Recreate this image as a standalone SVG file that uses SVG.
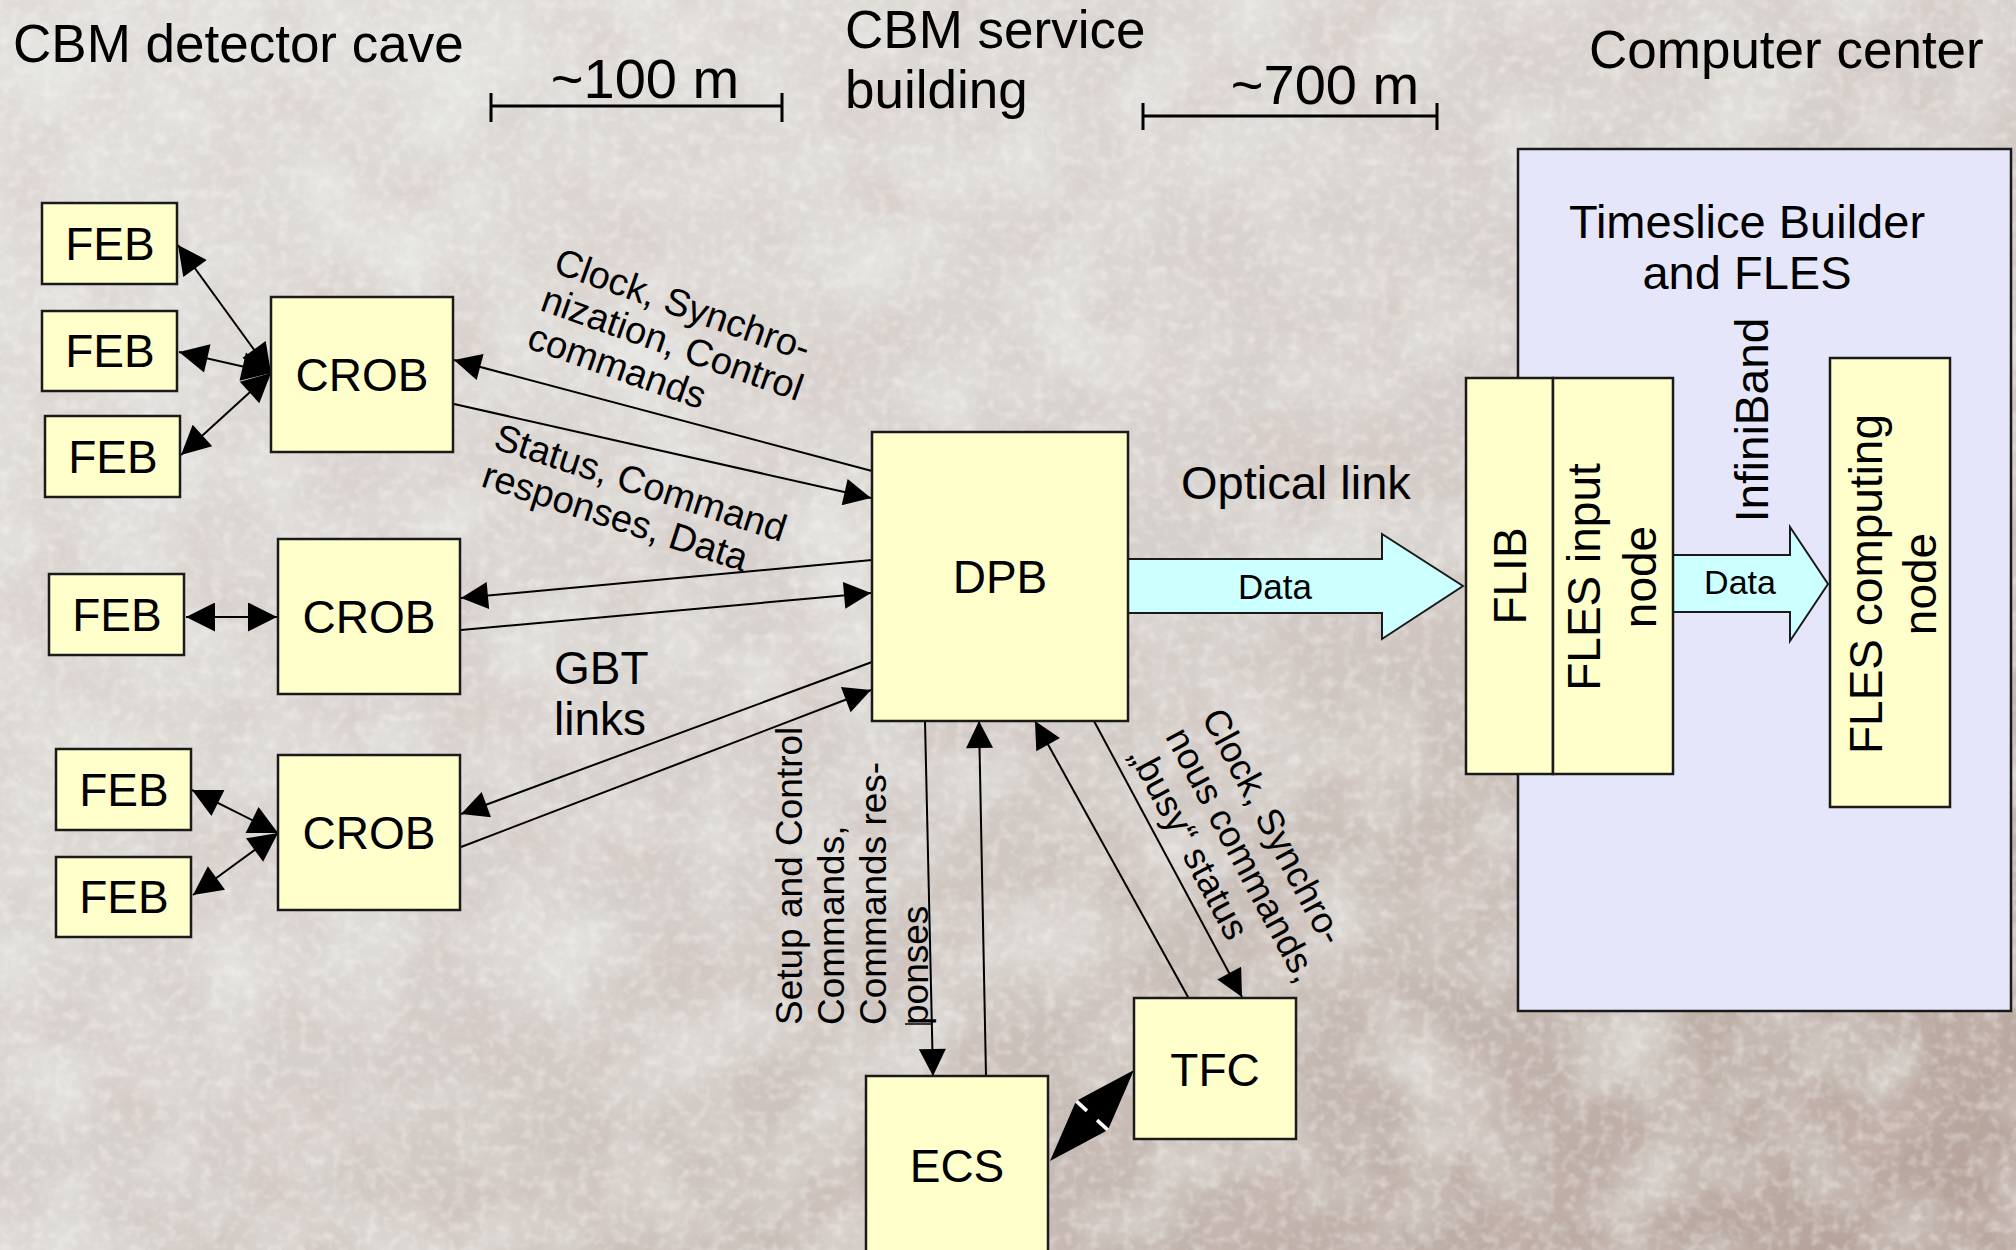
<svg xmlns="http://www.w3.org/2000/svg" width="2016" height="1250" viewBox="0 0 2016 1250">
<defs>
<linearGradient id="bg" x1="0" y1="0" x2="1" y2="1">
<stop offset="0" stop-color="#E2E0DC"/>
<stop offset="0.5" stop-color="#D6D0CC"/>
<stop offset="1" stop-color="#B3A097"/>
</linearGradient>
<filter id="tex" x="0" y="0" width="100%" height="100%">
<feTurbulence type="fractalNoise" baseFrequency="0.012" numOctaves="5" seed="7"/>
<feColorMatrix type="matrix" values="0 0 0 0 0.66  0 0 0 0 0.52  0 0 0 0 0.5  0.9 0 0 0 -0.42"/>
</filter>
<filter id="texg" x="0" y="0" width="100%" height="100%">
<feTurbulence type="fractalNoise" baseFrequency="0.01" numOctaves="4" seed="11"/>
<feColorMatrix type="matrix" values="0 0 0 0 0.84  0 0 0 0 0.86  0 0 0 0 0.83  0 1.3 0 0 -0.52"/>
</filter>
<filter id="tex2" x="0" y="0" width="100%" height="100%">
<feTurbulence type="fractalNoise" baseFrequency="0.09" numOctaves="2" seed="3"/>
<feColorMatrix type="matrix" values="0 0 0 0 0.96  0 0 0 0 0.95  0 0 0 0 0.94  0 0.9 0 0 -0.4"/>
</filter>
<marker id="ah" viewBox="0 0 10 10" refX="10" refY="5" markerWidth="40" markerHeight="27" markerUnits="userSpaceOnUse" orient="auto-start-reverse">
<path d="M0,0 L10,5 L0,10 z" fill="#000"/>
</marker>
<marker id="ahs" viewBox="0 0 10 10" refX="10" refY="5" markerWidth="37" markerHeight="29" markerUnits="userSpaceOnUse" orient="auto-start-reverse">
<path d="M0,0 L10,5 L0,10 z" fill="#000"/>
</marker>
<style>
.t{font-family:"Liberation Sans",Arial,Helvetica,sans-serif;fill:#000}
.box{fill:#FFFFCC;stroke:#1a1a1a;stroke-width:2.5}
.c{stroke:#000;stroke-width:2;fill:none}
.feb{font-size:46px;text-anchor:middle}
.big{font-size:47px}
.head{font-size:53px}
.sm{font-size:37px}
.sl{font-size:38px}
.bar{stroke:#000;stroke-width:3;fill:none}
</style>
</defs>

<rect x="0" y="0" width="2016" height="1250" fill="url(#bg)"/>
<rect x="0" y="0" width="2016" height="1250" filter="url(#tex)"/>
<rect x="0" y="0" width="2016" height="1250" filter="url(#texg)"/>
<rect x="0" y="0" width="2016" height="1250" filter="url(#tex2)"/>

<g id="headers">
<text class="t head" x="13" y="62">CBM detector cave</text>
<text class="t head" x="845" y="48">CBM service</text>
<text class="t head" x="845" y="108">building</text>
<text class="t head" x="1589" y="68">Computer center</text>
<text class="t" font-size="56" x="645" y="98" text-anchor="middle">~100 m</text>
<text class="t" font-size="56" x="1325" y="104" text-anchor="middle">~700 m</text>
<path class="bar" d="M491,106 H782 M491,93 V122 M782,93 V122"/>
<path class="bar" d="M1143,116 H1437 M1143,103 V130 M1437,103 V130"/>
</g>

<g id="computer-center">
<rect x="1518" y="149" width="493" height="862" fill="#E6E6FA" stroke="#1a1a1a" stroke-width="2.5"/>
<text class="t big" x="1747" y="238" text-anchor="middle">Timeslice Builder</text>
<text class="t big" x="1747" y="289" text-anchor="middle">and FLES</text>
<text class="t" font-size="46" text-anchor="middle" transform="translate(1768,420) rotate(-90)">InfiniBand</text>
</g>

<g id="connectors">
<path class="c" d="M178,245 L271,373" marker-start="url(#ahs)" marker-end="url(#ahs)"/>
<path class="c" d="M179,352 L271,373" marker-start="url(#ahs)" marker-end="url(#ahs)"/>
<path class="c" d="M181,455 L271,373" marker-start="url(#ahs)" marker-end="url(#ahs)"/>
<path class="c" d="M186,617 L277,617" marker-start="url(#ahs)" marker-end="url(#ahs)"/>
<path class="c" d="M192,790 L278,833" marker-start="url(#ahs)" marker-end="url(#ahs)"/>
<path class="c" d="M193,895 L278,833" marker-start="url(#ahs)" marker-end="url(#ahs)"/>
<path class="c" d="M872,471 L454,360" marker-end="url(#ah)"/>
<path class="c" d="M454,404 L871,498" marker-end="url(#ah)"/>
<path class="c" d="M872,560 L461,598" marker-end="url(#ah)"/>
<path class="c" d="M461,630 L871,593" marker-end="url(#ah)"/>
<path class="c" d="M872,662 L461,814" marker-end="url(#ah)"/>
<path class="c" d="M461,847 L871,690" marker-end="url(#ah)"/>
<path class="c" d="M925,721 L933,1076" marker-end="url(#ah)"/>
<path class="c" d="M986,1076 L979,721" marker-end="url(#ah)"/>
<path class="c" d="M1188,997 L1035,721" marker-end="url(#ah)"/>
<path class="c" d="M1094,721 L1242,997" marker-end="url(#ah)"/>
<path d="M1134,1070 L1108.7,1128.3 L1077.9,1099.9 Z M1050,1161 L1075.3,1102.7 L1106.1,1131.1 Z" fill="#000"/>
<path d="M1088,1120 L1096,1111" stroke="#000" stroke-width="14"/>
<path d="M1097.1,1120.2 L1107.4,1129.7 M1086.9,1110.8 L1076.6,1101.3" stroke="#fff" stroke-width="3"/>
<polygon points="1128,559 1382,559 1382,534 1463,586 1382,639 1382,613 1128,613" fill="#CCFFFF" stroke="#1a1a1a" stroke-width="2"/>
<polygon points="1673,555 1790,555 1790,527 1828,584 1790,641 1790,612 1673,612" fill="#CCFFFF" stroke="#1a1a1a" stroke-width="2"/>
<text class="t" font-size="35" x="1275" y="599" text-anchor="middle">Data</text>
<text class="t" font-size="34" x="1740" y="594" text-anchor="middle">Data</text>
<text class="t big" x="1181" y="499">Optical link</text>
<text class="t sl" transform="translate(552,272) rotate(19.5)"><tspan x="0" y="0">Clock, Synchro-</tspan><tspan x="0" y="40">nization, Control</tspan><tspan x="0" y="80">commands</tspan></text>
<text class="t sl" transform="translate(492,448) rotate(18)"><tspan x="0" y="0">Status, Command</tspan><tspan x="0" y="40">responses, Data</tspan></text>
<text class="t" font-size="46" x="554" y="684">GBT</text>
<text class="t" font-size="46" x="554" y="735">links</text>
<text class="t sm" transform="translate(802,1025) rotate(-90)"><tspan x="0" y="0">Setup and Control</tspan><tspan x="0" y="42">Commands,</tspan><tspan x="0" y="84">Commands res-</tspan><tspan x="0" y="126">ponses</tspan></text>
<path d="M905,1024 H933" stroke="#000" stroke-width="1.5"/>
<text class="t sm" transform="translate(1201,717) rotate(62)"><tspan x="0" y="0">Clock, Synchro-</tspan><tspan x="0" y="41">nous commands,</tspan><tspan x="0" y="82">„busy“ status</tspan></text>
</g>

<g id="feb1"><rect class="box" x="42" y="203" width="135" height="81"/><text class="t feb" x="110" y="260">FEB</text></g>
<g id="feb2"><rect class="box" x="42" y="311" width="135" height="80"/><text class="t feb" x="110" y="367">FEB</text></g>
<g id="feb3"><rect class="box" x="45" y="416" width="135" height="81"/><text class="t feb" x="113" y="473">FEB</text></g>
<g id="feb4"><rect class="box" x="49" y="574" width="135" height="81"/><text class="t feb" x="117" y="631">FEB</text></g>
<g id="feb5"><rect class="box" x="56" y="749" width="135" height="81"/><text class="t feb" x="124" y="806">FEB</text></g>
<g id="feb6"><rect class="box" x="56" y="857" width="135" height="80"/><text class="t feb" x="124" y="913">FEB</text></g>
<g id="crob1"><rect class="box" x="271" y="297" width="182" height="155"/><text class="t feb" x="362" y="391">CROB</text></g>
<g id="crob2"><rect class="box" x="278" y="539" width="182" height="155"/><text class="t feb" x="369" y="633">CROB</text></g>
<g id="crob3"><rect class="box" x="278" y="755" width="182" height="155"/><text class="t feb" x="369" y="849">CROB</text></g>
<g id="dpb"><rect class="box" x="872" y="432" width="256" height="289"/><text class="t feb" x="1000" y="593" font-size="50">DPB</text></g>
<g id="ecs"><rect class="box" x="866" y="1076" width="182" height="190"/><text class="t feb" x="957" y="1182">ECS</text></g>
<g id="tfc"><rect class="box" x="1134" y="998" width="162" height="141"/><text class="t feb" x="1215" y="1086">TFC</text></g>
<g id="flib"><rect class="box" x="1466" y="378" width="87" height="396"/><text class="t" font-size="46" text-anchor="middle" transform="translate(1526,576) rotate(-90)">FLIB</text></g>
<g id="fles-input"><rect class="box" x="1553" y="378" width="120" height="396"/><text class="t" font-size="46" text-anchor="middle" transform="translate(1600,577) rotate(-90)"><tspan x="0" y="0">FLES input</tspan><tspan x="0" y="56">node</tspan></text></g>
<g id="fles-computing"><rect class="box" x="1830" y="358" width="120" height="449"/><text class="t" font-size="46" text-anchor="middle" transform="translate(1882,584) rotate(-90)"><tspan x="0" y="0">FLES computing</tspan><tspan x="0" y="54">node</tspan></text></g>
</svg>
